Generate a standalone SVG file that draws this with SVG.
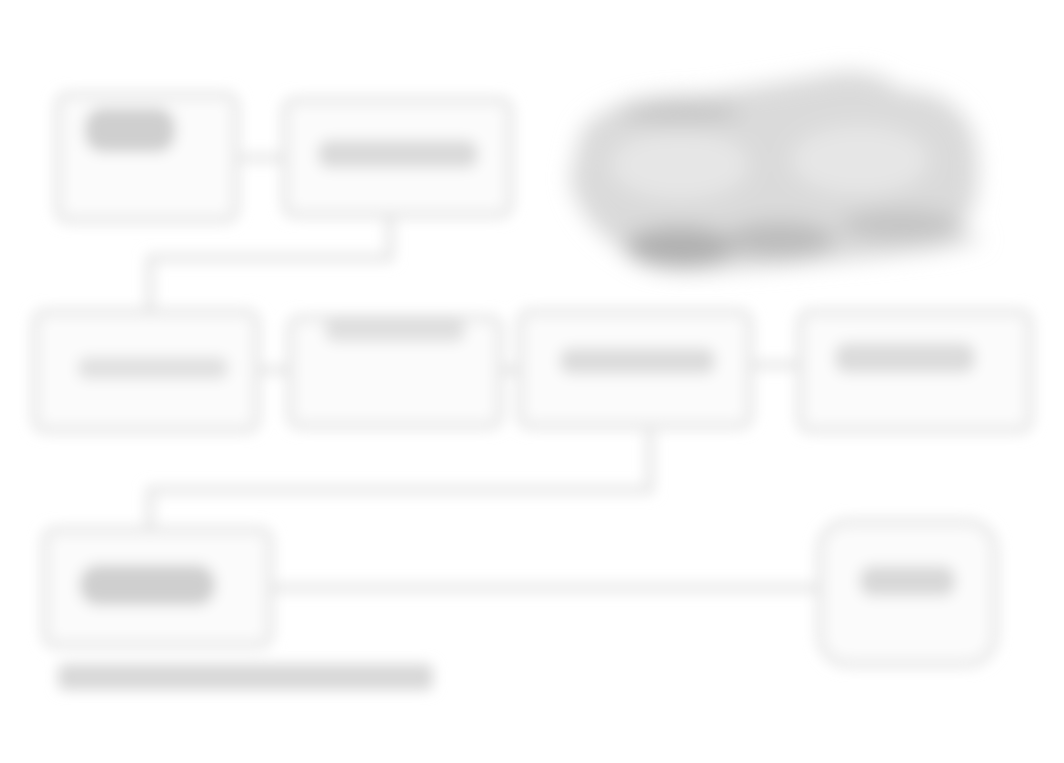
<svg xmlns="http://www.w3.org/2000/svg" width="1064" height="763" viewBox="0 0 1064 763">
<defs>
<filter id="blur" x="-20%" y="-20%" width="140%" height="140%"><feGaussianBlur stdDeviation="7"/></filter>
<filter id="blur2" x="-20%" y="-20%" width="140%" height="140%"><feGaussianBlur stdDeviation="11"/></filter>
<style>
.box{fill:#fbfbfb;stroke:#e0e0e0;stroke-width:6}
.blob{fill:#cfcfcf}
.wire{fill:none;stroke:#e2e2e2;stroke-width:7}
</style>
</defs>
<rect width="1064" height="763" fill="#ffffff"/>
<g filter="url(#blur)">
<g id="connectors">
<path class="wire" d="M390 215 V258 H150 V310"/>
<path class="wire" d="M650 430 V490 H150 V530"/>
<path class="wire" d="M270 588 H830"/>
<path class="wire" d="M240 158 H290"/>
<path class="wire" d="M258 370 H292"/>
<path class="wire" d="M500 370 H522"/>
<path class="wire" d="M750 365 H802"/>
</g>
<g id="n1"><rect class="box" x="58" y="95" width="178" height="125" rx="10"/><rect class="blob" x="85" y="108" width="90" height="44" rx="18"/></g>
<g id="n2"><rect class="box" x="285" y="100" width="225" height="115" rx="10"/><rect class="blob" x="318" y="140" width="160" height="28" rx="12" opacity="0.75"/></g>
<g id="n4"><rect class="box" x="35" y="312" width="222" height="118" rx="10"/><rect class="blob" x="78" y="357" width="150" height="22" rx="9" opacity="0.6"/></g>
<g id="n5"><rect class="box" x="290" y="318" width="210" height="108" rx="10"/><rect class="blob" x="325" y="318" width="140" height="24" rx="10" opacity="0.6"/></g>
<g id="n6"><rect class="box" x="520" y="312" width="230" height="114" rx="10"/><rect class="blob" x="560" y="348" width="155" height="26" rx="10" opacity="0.7"/></g>
<g id="n7"><rect class="box" x="800" y="312" width="230" height="118" rx="10"/><rect class="blob" x="835" y="343" width="140" height="30" rx="12" opacity="0.7"/></g>
<g id="n8"><rect class="box" x="45" y="530" width="225" height="115" rx="10"/><rect class="blob" x="80" y="565" width="135" height="40" rx="18" fill="#bdbdbd"/></g>
<g id="n9"><rect class="box" x="820" y="522" width="175" height="142" rx="28"/><rect class="blob" x="860" y="566" width="95" height="30" rx="12" opacity="0.8"/></g>
<g id="note"><rect x="58" y="664" width="375" height="26" rx="6" fill="#d8d8d8"/></g>
</g>
<g id="n3" filter="url(#blur2)">
<path d="M580 135 Q600 95 700 95 Q800 80 840 72 Q880 70 900 90 Q960 90 975 140 Q985 200 960 230 L985 240 L940 250 Q840 262 720 270 Q650 275 630 255 Q580 225 570 180 Z" fill="#dadada"/>
<ellipse cx="680" cy="165" rx="70" ry="35" fill="#e6e6e6"/>
<ellipse cx="860" cy="160" rx="70" ry="35" fill="#e6e6e6"/>
<ellipse cx="680" cy="247" rx="55" ry="20" fill="#b0b0b0"/>
<ellipse cx="780" cy="240" rx="55" ry="18" fill="#bcbcbc"/>
<ellipse cx="900" cy="225" rx="60" ry="16" fill="#c4c4c4"/>
<ellipse cx="680" cy="112" rx="60" ry="14" fill="#c8c8c8"/>
</g>
</svg>
